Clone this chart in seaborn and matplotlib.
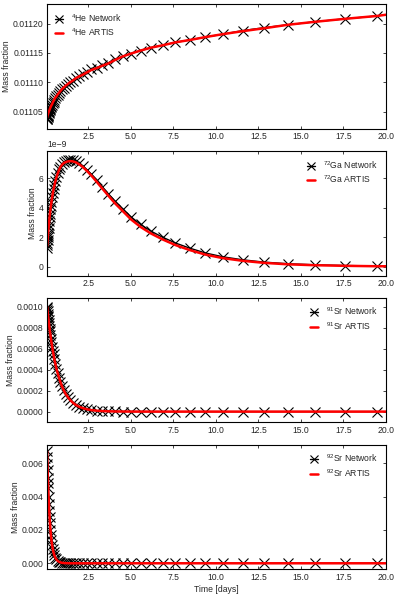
import matplotlib
matplotlib.use("Agg")
import matplotlib.pyplot as plt
import seaborn as sns
import pandas as pd

# tiempos (dias)
tiempo = [0.077, 0.085, 0.095, 0.105, 0.12, 0.13, 0.14, 0.16, 0.18, 0.20,
          0.22, 0.24, 0.27, 0.30, 0.33, 0.37, 0.41, 0.45, 0.50, 0.56,
          0.62, 0.69, 0.77, 0.85, 0.94, 1.05, 1.16, 1.29, 1.43, 1.59,
          1.77, 1.96, 2.18, 2.42, 2.68, 2.98, 3.31, 3.67, 4.07, 4.52,
          5.02, 5.57, 6.19, 6.87, 7.62, 8.46, 9.39, 10.42, 11.57, 12.84,
          14.26, 15.83, 17.57, 19.50]
tiempo_artis = tiempo + [20.0]

# 4He
he4_red = [0.011037, 0.011038, 0.011040, 0.011041, 0.011042, 0.011044, 0.011045, 0.011047, 0.011049, 0.011051,
           0.011052, 0.011054, 0.011056, 0.011058, 0.011060, 0.011062, 0.011065, 0.011067, 0.011070, 0.011073,
           0.011076, 0.011079, 0.011082, 0.011085, 0.011088, 0.011091, 0.011094, 0.011097, 0.011100, 0.011103,
           0.011108, 0.011110, 0.011114, 0.011117, 0.011122, 0.011125, 0.011129, 0.011133, 0.011139, 0.011144,
           0.011149, 0.011154, 0.011159, 0.011163, 0.011168, 0.011172, 0.011177, 0.011182, 0.011188, 0.011193,
           0.011198, 0.011203, 0.011208, 0.011213]
he4_artis = [0.011040, 0.011042, 0.011043, 0.011044, 0.011045, 0.011046, 0.011047, 0.011049, 0.011050, 0.011052,
             0.011053, 0.011055, 0.011057, 0.011059, 0.011061, 0.011063, 0.011066, 0.011068, 0.011071, 0.011074,
             0.011076, 0.011079, 0.011082, 0.011085, 0.011088, 0.011091, 0.011094, 0.011097, 0.011100, 0.011103,
             0.011107, 0.011110, 0.011113, 0.011117, 0.011121, 0.011124, 0.011128, 0.011132, 0.011138, 0.011144,
             0.011149, 0.011154, 0.011159, 0.011163, 0.011168, 0.011172, 0.011177, 0.011182, 0.011187, 0.011192,
             0.011198, 0.011203, 0.011208, 0.011213, 0.011215]

# 72Ga
ga72_red = [1.3e-9, 1.45e-9, 1.6e-9, 1.8e-9, 2.0e-9, 2.15e-9, 2.3e-9, 2.6e-9, 2.85e-9, 3.1e-9,
            3.35e-9, 3.6e-9, 3.9e-9, 4.15e-9, 4.4e-9, 4.7e-9, 5.0e-9, 5.25e-9, 5.55e-9, 5.85e-9,
            6.1e-9, 6.35e-9, 6.6e-9, 6.8e-9, 6.95e-9, 7.1e-9, 7.18e-9, 7.23e-9, 7.25e-9, 7.23e-9,
            7.15e-9, 7.02e-9, 6.83e-9, 6.58e-9, 6.27e-9, 5.88e-9, 5.44e-9, 4.96e-9, 4.45e-9, 3.93e-9,
            3.37e-9, 2.87e-9, 2.41e-9, 2.0e-9, 1.61e-9, 1.26e-9, 0.93e-9, 0.67e-9, 0.47e-9, 0.31e-9,
            0.2e-9, 0.13e-9, 0.08e-9, 0.05e-9]
ga72_artis = [1.4e-9, 1.55e-9, 1.7e-9, 1.85e-9, 2.05e-9, 2.2e-9, 2.35e-9, 2.65e-9, 2.9e-9, 3.15e-9,
              3.4e-9, 3.6e-9, 3.9e-9, 4.15e-9, 4.4e-9, 4.7e-9, 5.0e-9, 5.25e-9, 5.5e-9, 5.8e-9,
              6.05e-9, 6.3e-9, 6.55e-9, 6.75e-9, 6.9e-9, 7.03e-9, 7.1e-9, 7.15e-9, 7.17e-9, 7.15e-9,
              7.08e-9, 6.95e-9, 6.76e-9, 6.5e-9, 6.18e-9, 5.78e-9, 5.32e-9, 4.83e-9, 4.3e-9, 3.78e-9,
              3.2e-9, 2.7e-9, 2.25e-9, 1.85e-9, 1.47e-9, 1.13e-9, 0.82e-9, 0.58e-9, 0.40e-9, 0.26e-9,
              0.16e-9, 0.10e-9, 0.06e-9, 0.03e-9, 0.03e-9]

# 91Sr
sr91_red = [1.0e-3, 9.85e-4, 9.7e-4, 9.55e-4, 9.3e-4, 9.15e-4, 9.0e-4, 8.7e-4, 8.45e-4, 8.15e-4,
            7.9e-4, 7.65e-4, 7.3e-4, 6.95e-4, 6.6e-4, 6.2e-4, 5.8e-4, 5.45e-4, 5.0e-4, 4.55e-4,
            4.1e-4, 3.7e-4, 3.25e-4, 2.85e-4, 2.45e-4, 2.05e-4, 1.7e-4, 1.4e-4, 1.1e-4, 0.85e-4,
            0.63e-4, 0.46e-4, 0.33e-4, 0.22e-4, 0.14e-4, 0.09e-4, 0.05e-4, 0.03e-4, 0.015e-4, 0.008e-4,
            0.004e-4, 0.002e-4, 0.001e-4, 0.0005e-4, 0.0, 0.0, 0.0, 0.0, 0.0, 0.0,
            0.0, 0.0, 0.0, 0.0]
sr91_artis = sr91_red + [0.0]

# 92Sr
sr92_red = [6.7e-3, 6.37e-3, 5.98e-3, 5.62e-3, 5.13e-3, 4.82e-3, 4.53e-3, 4.0e-3, 3.53e-3, 3.12e-3,
            2.75e-3, 2.43e-3, 2.01e-3, 1.67e-3, 1.38e-3, 1.08e-3, 0.84e-3, 0.66e-3, 0.48e-3, 0.33e-3,
            0.23e-3, 0.15e-3, 0.09e-3, 0.055e-3, 0.031e-3, 0.016e-3, 0.008e-3, 0.0035e-3, 0.0015e-3, 0.0005e-3,
            0.0002e-3, 0.0001e-3, 0.0, 0.0, 0.0, 0.0, 0.0, 0.0, 0.0, 0.0,
            0.0, 0.0, 0.0, 0.0, 0.0, 0.0, 0.0, 0.0, 0.0, 0.0,
            0.0, 0.0, 0.0, 0.0]
sr92_artis = sr92_red + [0.0]

# marcas del eje y de cada panel
yticks_he4 = [0.01105, 0.01110, 0.01115, 0.01120]
yticks_ga72 = [0.0, 2e-9, 4e-9, 6e-9]
yticks_sr91 = [0.0, 0.0002, 0.0004, 0.0006, 0.0008, 0.0010]
yticks_sr92 = [0.0, 0.002, 0.004, 0.006]
xticks = [2.5, 5.0, 7.5, 10.0, 12.5, 15.0, 17.5, 20.0]

paneles = [
    ("$^{4}$He", he4_red, he4_artis, yticks_he4, (0.011021, 0.011233), "upper left"),
    ("$^{72}$Ga", ga72_red, ga72_artis, yticks_ga72, (-0.6e-9, 7.85e-9), "upper right"),
    ("$^{91}$Sr", sr91_red, sr91_artis, yticks_sr91, (-0.000103, 0.001084), "upper right"),
    ("$^{92}$Sr", sr92_red, sr92_artis, yticks_sr92, (-0.00036, 0.0071), "upper right"),
]

sns.set_style("ticks", {"xtick.direction": "in", "ytick.direction": "in"})
plt.rcParams["font.family"] = ["Liberation Sans", "DejaVu Sans"]
plt.rcParams["mathtext.fontset"] = "custom"
plt.rcParams["mathtext.rm"] = "Liberation Sans"
plt.rcParams["font.size"] = 6.2
fs = 6.2

fig, axes = plt.subplots(4, 1, figsize=(3.99, 5.98), dpi=100)
fig.subplots_adjust(left=0.118, right=0.967, top=0.993, bottom=0.048, hspace=0.18)

for ax, (etiqueta, red, artis, yt, ylim, loc) in zip(axes, paneles):
    df_red = pd.DataFrame({"t": tiempo, "x": red})
    df_artis = pd.DataFrame({"t": tiempo_artis, "x": artis})
    sns.lineplot(data=df_red, x="t", y="x", ax=ax, color="black", lw=1.0,
                 marker="x", markersize=6.5, markeredgewidth=0.8, markeredgecolor="black",
                 label=etiqueta + " Network")
    sns.lineplot(data=df_artis, x="t", y="x", ax=ax, color="red", lw=1.8,
                 label=etiqueta + " ARTIS")
    ax.set_xlim(0.072, 20.0)
    ax.set_ylim(*ylim)
    ax.set_xticks(xticks)
    ax.set_yticks(yt)
    ax.tick_params(which="both", direction="in", top=True, right=True,
                   length=2.5, width=0.6, labelsize=fs, pad=2.5)
    ax.ticklabel_format(axis="y", useOffset=False)
    for s in ax.spines.values():
        s.set_linewidth(0.8)
        s.set_color("black")
    ax.set_xlabel("")
    ax.set_ylabel("Mass fraction", fontsize=fs, labelpad=1.5)
    ax.legend(loc=loc, frameon=False, fontsize=fs, handlelength=0.9,
              handletextpad=1.0, labelspacing=0.35, markerscale=0.8)

axes[1].yaxis.get_offset_text().set_fontsize(fs)
axes[-1].set_xlabel("Time [days]", fontsize=fs, labelpad=2)

fig.savefig("out.png", dpi=100)
